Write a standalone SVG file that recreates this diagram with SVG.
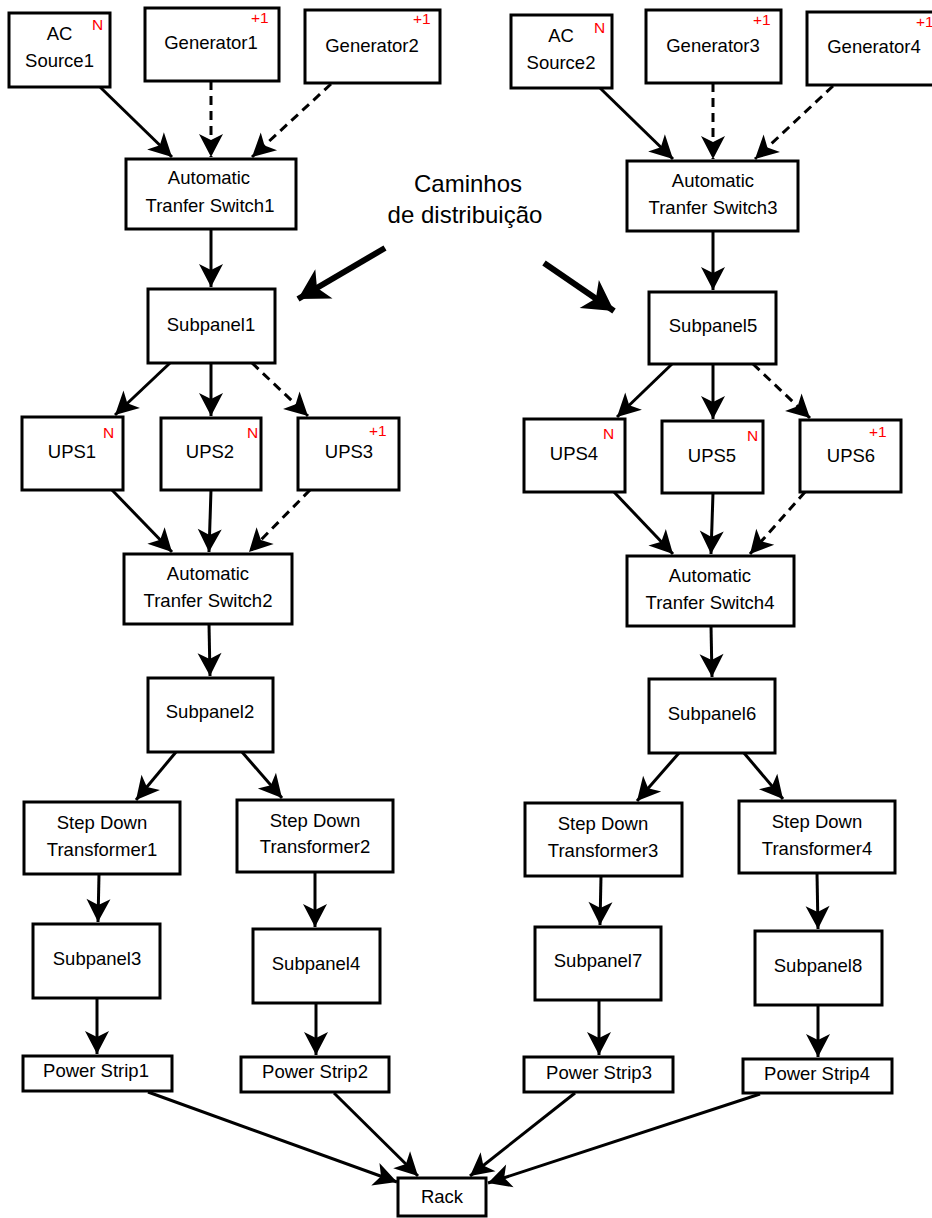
<svg xmlns="http://www.w3.org/2000/svg" width="932" height="1218" viewBox="0 0 932 1218">
<style>
.b{fill:#fff;stroke:#000;stroke-width:3}
.t{font-family:"Liberation Sans",Arial,sans-serif;font-size:18.5px;fill:#000;text-anchor:middle}
.r{font-family:"Liberation Sans",Arial,sans-serif;font-size:15.5px;fill:#f00}
.c{fill:none;stroke:#000;stroke-width:3;marker-end:url(#a)}
.d{stroke-dasharray:9 6}
.big{fill:none;stroke:#000;stroke-width:6;marker-end:url(#ab)}
.cap{font-family:"Liberation Sans",Arial,sans-serif;font-size:24px;fill:#000;text-anchor:middle}
</style>
<defs>
<marker id="a" markerUnits="userSpaceOnUse" markerWidth="23" markerHeight="24" refX="23" refY="12" orient="auto" overflow="visible">
<path d="M0,0 L23,12 L0,24 L6,12 Z" fill="#000"/>
</marker>
<marker id="ab" markerUnits="userSpaceOnUse" markerWidth="30" markerHeight="34" refX="30" refY="17" orient="auto" overflow="visible">
<path d="M0,0 L30,17 L0,34 L8,17 Z" fill="#000"/>
</marker>
</defs>
<rect width="932" height="1218" fill="#fff"/>
<g id="connectors">
<line class="c" x1="100" y1="87" x2="172" y2="157"/>
<line class="c d" x1="211" y1="81" x2="211" y2="157"/>
<line class="c d" x1="331" y1="84" x2="252" y2="157"/>
<line class="c" x1="600" y1="88" x2="673" y2="159"/>
<line class="c d" x1="713" y1="83" x2="713" y2="159"/>
<line class="c d" x1="833" y1="86" x2="755" y2="159"/>
<line class="c" x1="211" y1="229" x2="211" y2="287"/>
<line class="c" x1="713" y1="231" x2="713" y2="290"/>
<line class="c" x1="170" y1="363" x2="115" y2="415"/>
<line class="c" x1="211" y1="363" x2="211" y2="416"/>
<line class="c d" x1="252" y1="363" x2="308" y2="416"/>
<line class="c" x1="672" y1="364" x2="617" y2="417"/>
<line class="c" x1="713" y1="364" x2="713" y2="419"/>
<line class="c d" x1="753" y1="364" x2="810" y2="418"/>
<line class="c" x1="112" y1="490" x2="172" y2="552"/>
<line class="c" x1="211" y1="490" x2="209" y2="552"/>
<line class="c d" x1="310" y1="490" x2="249" y2="552"/>
<line class="c" x1="614" y1="492" x2="673" y2="554"/>
<line class="c" x1="713" y1="493" x2="711" y2="554"/>
<line class="c d" x1="805" y1="492" x2="750" y2="554"/>
<line class="c" x1="209" y1="624" x2="210" y2="676"/>
<line class="c" x1="711" y1="626" x2="712" y2="677"/>
<line class="c" x1="176" y1="752" x2="136" y2="800"/>
<line class="c" x1="242" y1="752" x2="282" y2="798"/>
<line class="c" x1="679" y1="753" x2="637" y2="801"/>
<line class="c" x1="744" y1="753" x2="783" y2="799"/>
<line class="c" x1="99" y1="874" x2="98" y2="922"/>
<line class="c" x1="315" y1="872" x2="315" y2="927"/>
<line class="c" x1="601" y1="876" x2="600" y2="925"/>
<line class="c" x1="817" y1="873" x2="818" y2="929"/>
<line class="c" x1="97" y1="998" x2="97" y2="1054"/>
<line class="c" x1="316" y1="1003" x2="316" y2="1055"/>
<line class="c" x1="599" y1="1000" x2="599" y2="1055"/>
<line class="c" x1="818" y1="1005" x2="818" y2="1057"/>
<line class="c" x1="148" y1="1092" x2="397" y2="1182"/>
<line class="c" x1="334" y1="1093" x2="418" y2="1176"/>
<line class="c" x1="575" y1="1093" x2="470" y2="1176"/>
<line class="c" x1="760" y1="1094" x2="488" y2="1183"/>
<line class="big" x1="385" y1="248" x2="298" y2="299"/>
<line class="big" x1="544" y1="263" x2="614" y2="311"/>
</g>
<g id="caption">
<text class="cap" x="468" y="192">Caminhos</text>
<text class="cap" x="465" y="223">de distribuição</text>
</g>
<g id="ac1"><rect class="b" x="9" y="13" width="101" height="74"/><text class="t" x="59.5" y="40">AC</text><text class="t" x="59.5" y="67">Source1</text><text class="r" x="92" y="30">N</text></g>
<g id="gen1"><rect class="b" x="145" y="8" width="134" height="73"/><text class="t" x="211" y="49">Generator1</text><text class="r" x="251" y="23">+1</text></g>
<g id="gen2"><rect class="b" x="305" y="10" width="135" height="73"/><text class="t" x="372" y="52">Generator2</text><text class="r" x="413" y="24">+1</text></g>
<g id="ats1"><rect class="b" x="126" y="159" width="170" height="70"/><text class="t" x="209" y="184">Automatic</text><text class="t" x="210" y="212">Tranfer Switch1</text></g>
<g id="ac2"><rect class="b" x="511" y="15" width="101" height="73"/><text class="t" x="561" y="42">AC</text><text class="t" x="561" y="69">Source2</text><text class="r" x="594" y="33">N</text></g>
<g id="gen3"><rect class="b" x="646" y="10" width="135" height="73"/><text class="t" x="713" y="52">Generator3</text><text class="r" x="753" y="25">+1</text></g>
<g id="gen4"><rect class="b" x="807" y="12" width="134" height="73"/><text class="t" x="874" y="53">Generator4</text><text class="r" x="916" y="27">+1</text></g>
<g id="ats3"><rect class="b" x="627" y="161" width="171" height="70"/><text class="t" x="713" y="187">Automatic</text><text class="t" x="713" y="214">Tranfer Switch3</text></g>
<g id="sp1"><rect class="b" x="148" y="289" width="127" height="74"/><text class="t" x="211" y="331">Subpanel1</text></g>
<g id="sp5"><rect class="b" x="649" y="292" width="127" height="72"/><text class="t" x="713" y="332">Subpanel5</text></g>
<g id="ups1"><rect class="b" x="22" y="417" width="101" height="73"/><text class="t" x="72" y="458">UPS1</text><text class="r" x="103" y="438">N</text></g>
<g id="ups2"><rect class="b" x="161" y="418" width="100" height="72"/><text class="t" x="210" y="458">UPS2</text><text class="r" x="247" y="438">N</text></g>
<g id="ups3"><rect class="b" x="298" y="418" width="101" height="72"/><text class="t" x="349" y="458">UPS3</text><text class="r" x="369" y="436">+1</text></g>
<g id="ups4"><rect class="b" x="524" y="419" width="101" height="73"/><text class="t" x="574" y="460">UPS4</text><text class="r" x="603" y="439">N</text></g>
<g id="ups5"><rect class="b" x="662" y="421" width="101" height="72"/><text class="t" x="712" y="462">UPS5</text><text class="r" x="747" y="441">N</text></g>
<g id="ups6"><rect class="b" x="800" y="420" width="101" height="72"/><text class="t" x="851" y="462">UPS6</text><text class="r" x="869" y="437">+1</text></g>
<g id="ats2"><rect class="b" x="124" y="554" width="168" height="70"/><text class="t" x="208" y="580">Automatic</text><text class="t" x="208" y="607">Tranfer Switch2</text></g>
<g id="ats4"><rect class="b" x="627" y="556" width="167" height="70"/><text class="t" x="710" y="582">Automatic</text><text class="t" x="710" y="609">Tranfer Switch4</text></g>
<g id="sp2"><rect class="b" x="148" y="678" width="125" height="74"/><text class="t" x="210" y="718">Subpanel2</text></g>
<g id="sp6"><rect class="b" x="649" y="679" width="126" height="74"/><text class="t" x="712" y="720">Subpanel6</text></g>
<g id="stf1"><rect class="b" x="24" y="802" width="156" height="72"/><text class="t" x="102" y="829">Step Down</text><text class="t" x="102" y="856">Transformer1</text></g>
<g id="stf2"><rect class="b" x="237" y="800" width="156" height="72"/><text class="t" x="315" y="827">Step Down</text><text class="t" x="315" y="853">Transformer2</text></g>
<g id="stf3"><rect class="b" x="525" y="803" width="157" height="73"/><text class="t" x="603" y="830">Step Down</text><text class="t" x="603" y="857">Transformer3</text></g>
<g id="stf4"><rect class="b" x="739" y="801" width="156" height="72"/><text class="t" x="817" y="828">Step Down</text><text class="t" x="817" y="855">Transformer4</text></g>
<g id="sp3"><rect class="b" x="33" y="924" width="127" height="74"/><text class="t" x="97" y="965">Subpanel3</text></g>
<g id="sp4"><rect class="b" x="253" y="929" width="127" height="74"/><text class="t" x="316" y="970">Subpanel4</text></g>
<g id="sp7"><rect class="b" x="535" y="927" width="126" height="73"/><text class="t" x="598" y="967">Subpanel7</text></g>
<g id="sp8"><rect class="b" x="755" y="931" width="127" height="74"/><text class="t" x="818" y="972">Subpanel8</text></g>
<g id="ps1"><rect class="b" x="23" y="1056" width="149" height="35"/><text class="t" x="96" y="1077">Power Strip1</text></g>
<g id="ps2"><rect class="b" x="241" y="1057" width="148" height="35"/><text class="t" x="315" y="1078">Power Strip2</text></g>
<g id="ps3"><rect class="b" x="524" y="1057" width="149" height="35"/><text class="t" x="599" y="1079">Power Strip3</text></g>
<g id="ps4"><rect class="b" x="743" y="1059" width="149" height="34"/><text class="t" x="817" y="1080">Power Strip4</text></g>
<g id="rack"><rect class="b" x="398" y="1178" width="88" height="38"/><text class="t" x="442" y="1203">Rack</text></g>
</svg>
